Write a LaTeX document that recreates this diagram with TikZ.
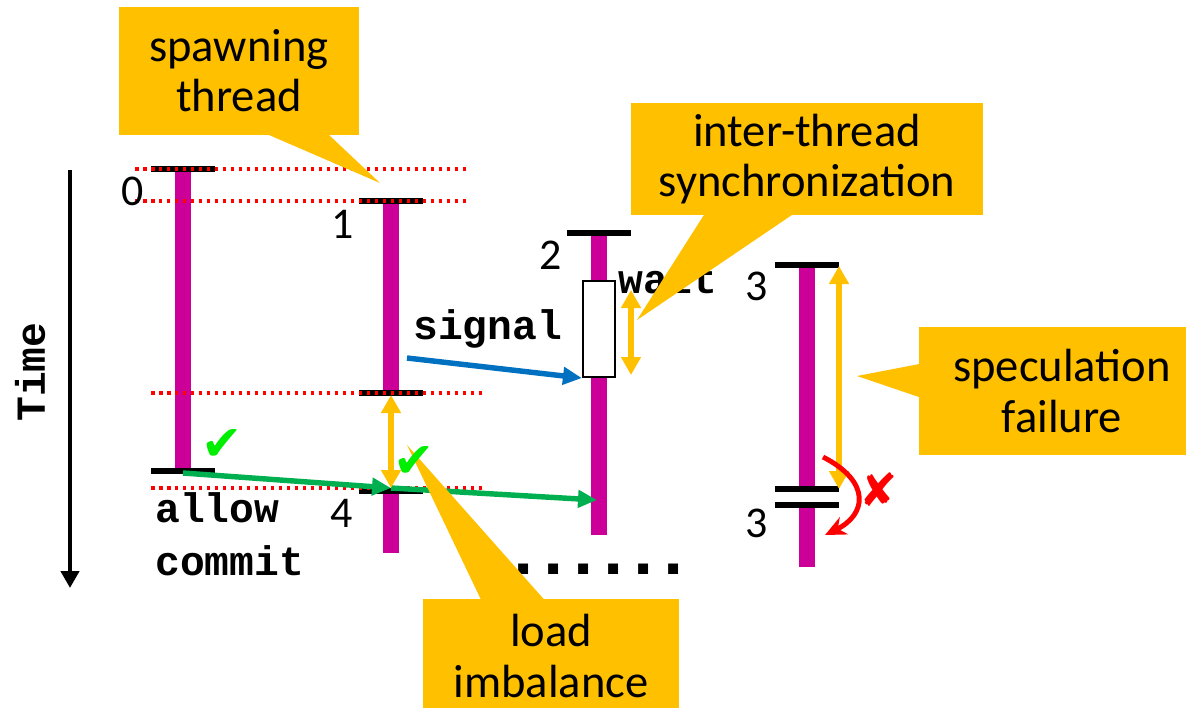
\documentclass[tikz,border=0pt]{standalone}
\usepackage{fontspec}
\setmainfont{Carlito}
\newfontfamily\codefont{Liberation Mono}
\newfontfamily\symbolfont{DejaVu Sans}
\usetikzlibrary{arrows.meta, calc, positioning, shapes.callouts}
\definecolor{thread}{HTML}{CC0099}
\definecolor{note}{HTML}{FFC000}
\definecolor{sig}{HTML}{0070C0}
\definecolor{pass}{HTML}{00B050}
\definecolor{tick}{HTML}{00EE00}
\definecolor{fail}{HTML}{FF0000}

\begin{document}
\begin{tikzpicture}[
    x=0.02cm, y=-0.02cm,
    font=\fontsize{26.5}{28.5}\selectfont,
    life/.style={
      draw=thread,
      line width=9pt,
    },
    tbar/.style={
      draw=black,
      line width=3.4pt,
    },
    guide/.style={
      draw=fail,
      line width=2.3pt,
      dash pattern=on 2pt off 2.55pt,
    },
    span/.style={
      draw=note,
      line width=3pt,
      {Triangle[length=0.36cm,width=0.38cm]}-{Triangle[length=0.36cm,width=0.38cm]},
    },
    sendarrow/.style={
      draw=#1,
      line width=3.1pt,
      -{Triangle[length=0.38cm,width=0.34cm]},
    },
    timeline/.style={
      draw=black,
      line width=2.8pt,
      -{Triangle[length=0.34cm,width=0.36cm]},
    },
    undo/.style={
      draw=fail,
      line width=2.8pt,
      -{Stealth[length=0.42cm,width=0.38cm]},
    },
    code/.style={
      font=\codefont\bfseries\fontsize{23.5}{26}\selectfont,
      inner sep=0pt,
    },
    num/.style={
      font=\fontsize{25}{27}\selectfont,
      inner sep=0pt,
    },
    bubble/.style={
      rectangle callout,
      fill=note,
      inner sep=0pt,
      align=center,
      callout pointer width=#1,
    },
    check/.style={
      text=tick,
      font=\symbolfont\fontsize{28}{30}\selectfont,
      inner sep=0pt,
    },
  ]

  \useasboundingbox (0,0) rectangle (1186,707);

  % Time axis
  \coordinate (tstart) at (70,170);
  \coordinate (tend) at (70,588);
  \draw[timeline] (tstart) -- (tend);
  \node[code, rotate=90] (time) at (30,372) {Time};

  % Thread life lines
  \foreach \x/\top/\bot in {183/169/471, 391/201/393, 391/491/553, 599/233/535, 807/265/489, 807/505/567} {
    \draw[life] (\x,\top) -- (\x,\bot);
  }

  % Start and end marks
  \foreach \x/\y in {183/169, 183/471, 391/201, 391/393, 391/491, 599/233, 807/265, 807/489, 807/505} {
    \draw[tbar] ({\x-32},\y) -- ({\x+32},\y);
  }

  % Spawn guides
  \foreach \y/\a/\b in {169/135/467, 201/135/467, 393/151/483, 488/151/483} {
    \draw[guide] (\a,\y) -- (\b,\y);
  }

  % Wait box
  \node[draw=black, fill=white, line width=1.2pt, minimum width=0.64cm,
    minimum height=1.92cm, inner sep=0pt] (waitbox) at (599,329) {};

  % Thread numbers
  \node[num] (n0) at (133,191) {0};
  \node[num] (n1) at (343,224) {1};
  \node[num] (n2) at (551,255) {2};
  \node[num] (n3a) at (757,286) {3};
  \node[num] (n3b) at (757,523) {3};
  \node[num] (n4) at (342,513) {4};

  % Code labels
  \def\dotgap{\kern-0.173em}
  \node[code, anchor=base west] (signal) at (413,339) {signal};
  \node[code, anchor=base west] (wait) at (618,293) {wait};
  \node[code, anchor=base west] (allow) at (155,522) {allow};
  \node[code, anchor=base west] (commit) at (155,575) {commit};
  \node[code, anchor=base west, font=\codefont\bfseries\fontsize{40}{42}\selectfont]
    (more) at (502,574) {.\dotgap.\dotgap.\dotgap.\dotgap.\dotgap.};

  % Signal and commit messages
  \coordinate (sigfrom) at (407,358);
  \coordinate (c0) at (183,473);
  \coordinate (c1) at (391,488);
  \coordinate (c2) at (597,500);
  \draw[sendarrow=sig] (sigfrom) -- (waitbox.south west);
  \draw[sendarrow=pass] (c0) -- (c1);
  \draw[sendarrow=pass] (c1) -- (c2);

  % Delays
  \coordinate (imbA) at (391,395);
  \coordinate (imbB) at (391,488);
  \coordinate (syncA) at (631,290);
  \coordinate (syncB) at (631,375);
  \coordinate (specA) at (839,266);
  \coordinate (specB) at (839,489);
  \draw[span] (imbA) -- (imbB);
  \draw[span] (syncA) -- (syncB);
  \draw[span] (specA) -- (specB);

  % Restart
  \coordinate (rbA) at (823,457);
  \coordinate (rbB) at (825,535);
  \draw[undo] (rbA) .. controls (872,482) and (866,515) .. (rbB);
  \node[text=fail, font=\symbolfont\fontsize{26}{28}\selectfont, inner sep=0pt] (cross) at (879,490) {✘};

  % Callouts
  \coordinate (spawnTip) at (380,183);
  \coordinate (syncTip) at (637,320);
  \coordinate (specTip) at (857,376);
  \coordinate (loadTip) at (407,445);
  \node[bubble=1.2cm, callout absolute pointer={(spawnTip)},
    minimum width=4.8cm, minimum height=2.56cm] (spawn) at (239,71) {spawning\\thread};
  \node[bubble=1.76cm, callout absolute pointer={(syncTip)},
    minimum width=7.04cm, minimum height=2.24cm] (sync) at (807,159) {inter-thread\\synchronization};
  \node[bubble=0.66cm, callout absolute pointer={(specTip)},
    minimum width=5.72cm, minimum height=2.56cm] (spec) at (1062,391) {speculation\\failure};
  \node[bubble=1.26cm, callout absolute pointer={(loadTip)},
    minimum width=5.12cm, minimum height=2.28cm] (load) at (551,656) {load\\imbalance};

  % Commit checks
  \node[check] (ok0) at (222,445) {✔};
  \node[check] (ok1) at (414,462) {✔};

\end{tikzpicture}
\end{document}
